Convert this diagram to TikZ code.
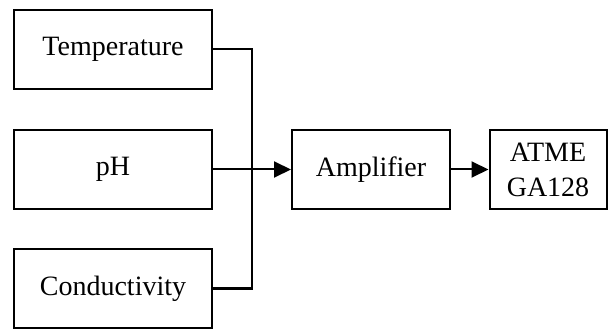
\documentclass[tikz,border=0pt]{standalone}
\usepackage{fontspec}
\setmainfont{Liberation Serif}
\usepackage{tikz}
\usetikzlibrary{positioning,calc,arrows.meta}

\begin{document}
\begin{tikzpicture}[
    x=1pt, y=-1pt,
    blk/.style={draw, line width=2pt, minimum width=198pt, minimum height=79pt, inner sep=0pt, font=\fontsize{28}{35}\selectfont, align=center},
    wire/.style={line width=2pt},
    arrow/.style={-{Triangle[length=17pt,width=16pt]}, line width=2pt}
]
\useasboundingbox (0,0) rectangle (608,331);
\node[blk] (temp) at (113,49.5)  {Temperature};
\node[blk] (ph)   at (113,169.5) {pH};
\node[blk] (cond) at (113,288.5) {Conductivity};
\node[blk, minimum width=158pt] (amp) at (371,169.5) {Amplifier};
\node[blk, minimum width=117pt] (mcu) at (548,169.5) {ATME\\GA128};
\coordinate (bus) at (252,169.5);

\draw[wire]  (temp.east) -| (bus);
\draw[wire]  (cond.east) -| (bus);
\draw[arrow] (ph)  -- (amp);
\draw[arrow] (amp) -- (mcu);
\end{tikzpicture}
\end{document}
